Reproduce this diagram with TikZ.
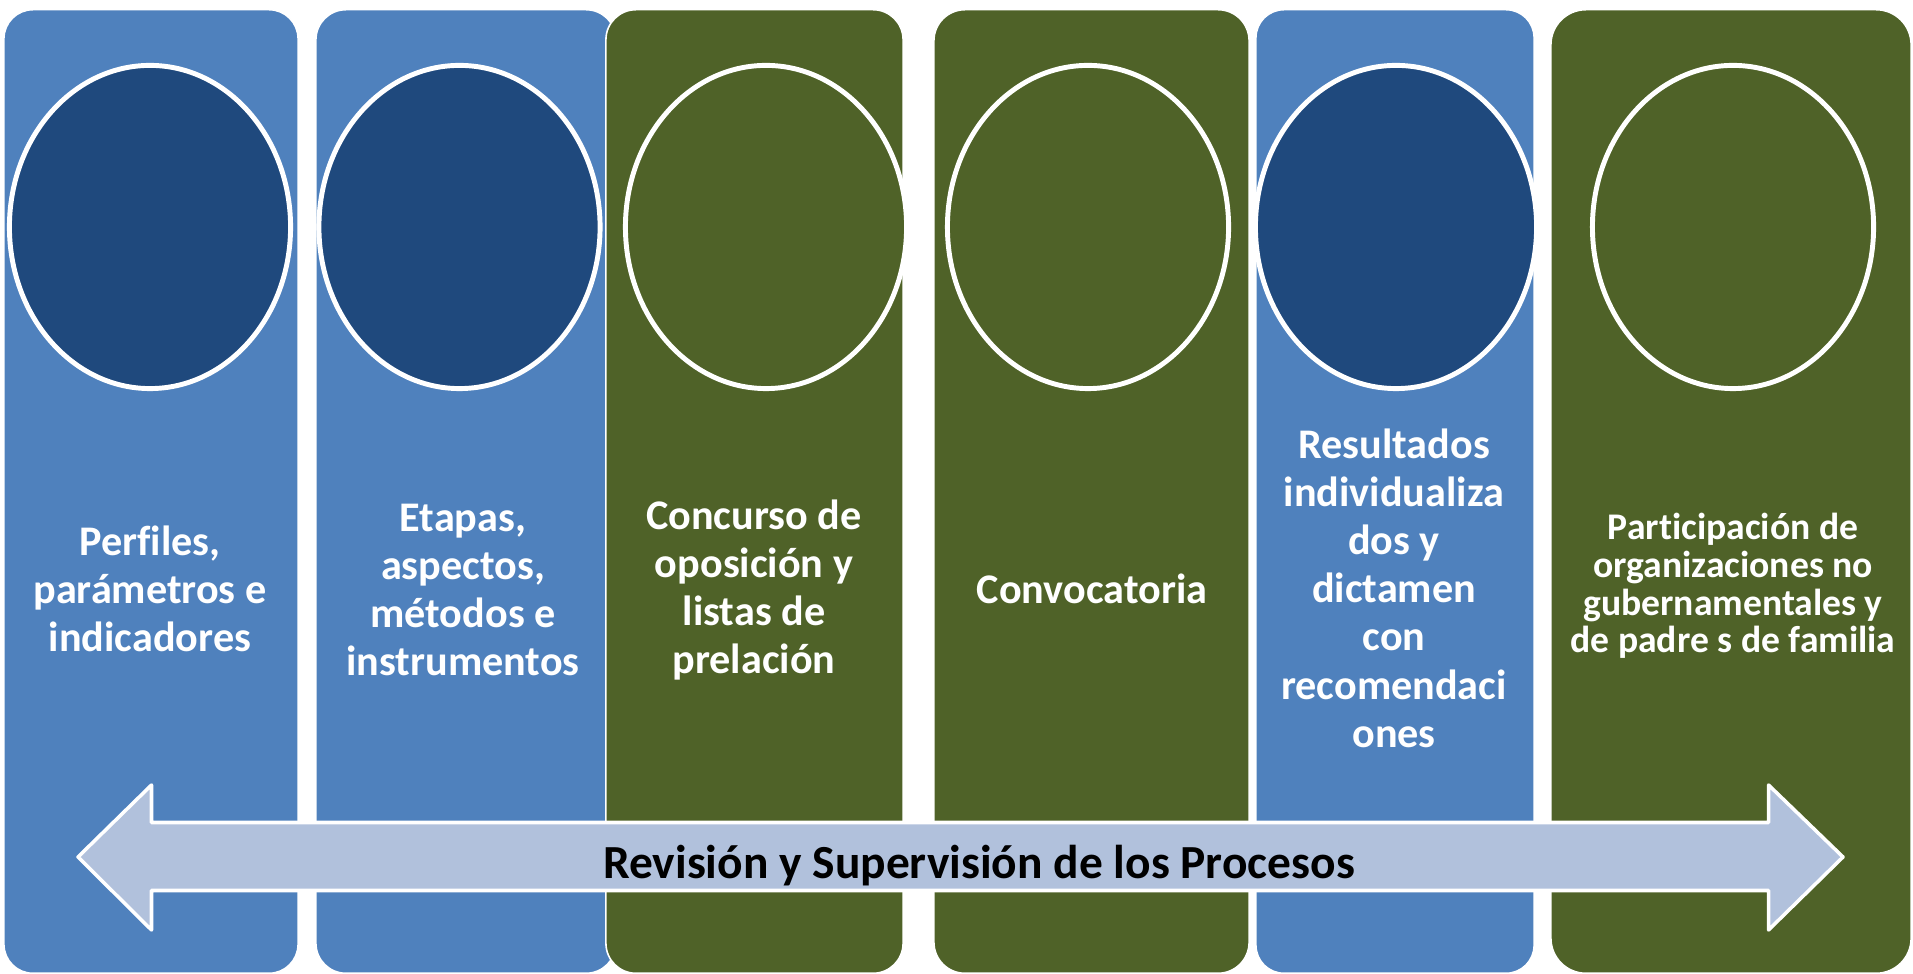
\documentclass[tikz,border=0pt]{standalone}
\usepackage{fontspec}
\setmainfont{Carlito}[Ligatures=NoCommon]
\usetikzlibrary{shapes.geometric}
\definecolor{colblue}{RGB}{79,129,189}
\definecolor{ovblue}{RGB}{31,73,125}
\definecolor{colgreen}{RGB}{79,98,40}
\definecolor{arrowfill}{RGB}{177,193,220}
\begin{document}
\begin{tikzpicture}[x=0.01cm,y=-0.01cm,
  colbox/.style={rectangle, draw=white, line width=0.45pt, inner sep=0pt, minimum height=9.63cm},
  oval/.style={ellipse, draw=white, line width=1.4pt, inner sep=0pt, minimum width=2.81cm, minimum height=3.23cm},
  lbl/.style={text=white, font=\bfseries\fontsize{12}{13.7}\selectfont, align=center, inner sep=0pt},
  lblsmall/.style={text=white, font=\bfseries\fontsize{10.7}{10.7}\selectfont, align=center, inner sep=0pt},
  arrowshape/.style={fill=arrowfill, draw=white, line width=1pt, line join=round},
  arrowtext/.style={text=black, font=\bfseries\fontsize{13.5}{15}\selectfont, inner sep=0pt}
]
\useasboundingbox (0,0) rectangle (1913,974);
% columns
\node[colbox, fill=colblue, minimum width=2.94cm, rounded corners=0.29cm] (c1) at (151,491.5) {};
\node[colbox, fill=colblue, minimum width=3.00cm, rounded corners=0.30cm] (c2) at (466,491.5) {};
\node[colbox, fill=colgreen, minimum width=2.97cm, rounded corners=0.30cm] (c3) at (754.5,491.5) {};
\node[colbox, fill=colgreen, minimum width=3.15cm, rounded corners=0.31cm] (c4) at (1091.5,491.5) {};
\node[colbox, fill=colblue, minimum width=2.78cm, rounded corners=0.28cm] (c5) at (1395,491.5) {};
\node[colbox, fill=colgreen, minimum width=3.60cm, rounded corners=0.35cm] (c6) at (1731,491.5) {};
% ovals
\node[oval, fill=ovblue] (o1) at (150,227) {};
\node[oval, fill=ovblue] (o2) at (459.5,227) {};
\node[oval, fill=colgreen] (o3) at (766,227) {};
\node[oval, fill=colgreen] (o4) at (1088,227) {};
\node[oval, fill=ovblue] (o5) at (1396,227) {};
\node[oval, fill=colgreen] (o6) at (1733,227) {};
% labels
\node[lbl] (t1) at (150,589) {Perfiles,\\parámetros e\\indicadores};
\node[lbl] (t2) at (463,590) {Etapas,\\aspectos,\\métodos e\\instrumentos};
\node[lbl] (t3) at (754,590) {Concurso de\\oposición y\\listas de\\prelación};
\node[lbl] (t4) at (1092,589) {Convocatoria};
\node[lbl] (t5) at (1394,588) {Resultados\\individualiza\\dos y\\dictamen\\con\\recomendaci\\ones};
\node[lblsmall] (t6) at (1733,586) {Participación de\\organizaciones no\\gubernamentales y\\de padre s de familia};
% double arrow
\draw[arrowshape] (78,857) -- (151.5,785) -- (151.5,822.5) -- (1768.5,822.5) -- (1768.5,785) -- (1843,857) -- (1768.5,930) -- (1768.5,890.5) -- (151.5,890.5) -- (151.5,930) -- cycle;
\node[arrowtext] (at) at (979,866) {Revisión y Supervisión de los Procesos};
\end{tikzpicture}
\end{document}
